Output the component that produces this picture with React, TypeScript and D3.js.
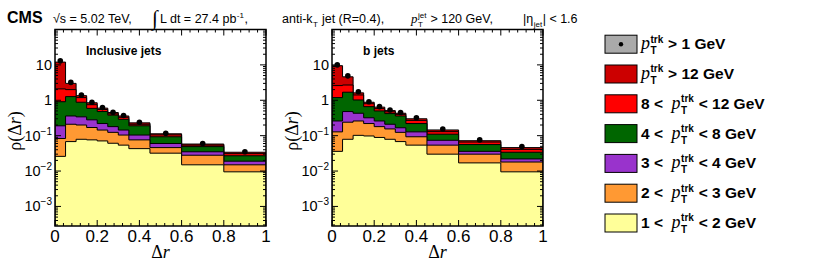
import { useEffect, useRef } from "react";
import * as d3 from "d3";

const binEdges = [0, 0.05, 0.1, 0.15, 0.2, 0.25, 0.3, 0.35, 0.45, 0.6, 0.8, 1.0];

// inclusive jets: contribution of each track-pT slice per bin
const inclPt1to2 = [0.026, 0.068, 0.079, 0.076, 0.071, 0.061, 0.054, 0.043, 0.032, 0.015, 0.0095];
const inclPt2to3 = [0.057, 0.142, 0.121, 0.094, 0.073, 0.063, 0.05, 0.033, 0.014, 0.013, 0.0055];
const inclPt3to4 = [0.107, 0.15, 0.14, 0.11, 0.076, 0.056, 0.04, 0.028, 0.014, 0.007, 0.004];
const inclPt4to8 = [0.72, 0.91, 0.54, 0.31, 0.26, 0.2, 0.146, 0.086, 0.033, 0.014, 0.008];
const inclPt8to12 = [1.19, 0.73, 0.31, 0.16, 0.07, 0.03, 0.04, 0.02, 0.012, 0.005, 0.004];
const inclPtAbove12 = [9.9, 1.0, 0.16, 0.1, 0.05, 0.04, 0.03, 0.02, 0.008, 0.004, 0.003];
const inclTotal = [13, 3.2, 1.41, 0.88, 0.62, 0.46, 0.37, 0.24, 0.117, 0.06, 0.035];

// b jets
const bPt1to2 = [0.036, 0.079, 0.102, 0.098, 0.089, 0.079, 0.068, 0.054, 0.03, 0.017, 0.0095];
const bPt2to3 = [0.092, 0.161, 0.158, 0.122, 0.091, 0.076, 0.056, 0.039, 0.024, 0.013, 0.0085];
const bPt3to4 = [0.132, 0.24, 0.17, 0.1, 0.08, 0.055, 0.043, 0.035, 0.02, 0.006, 0.004];
const bPt4to8 = [0.93, 1.21, 0.59, 0.34, 0.24, 0.21, 0.193, 0.092, 0.036, 0.02, 0.012];
const bPt8to12 = [1.41, 1.01, 0.39, 0.14, 0.08, 0.05, 0.04, 0.05, 0.02, 0.01, 0.007];
const bPtAbove12 = [6.9, 1.9, 0.21, 0.08, 0.06, 0.04, 0.03, 0.03, 0.015, 0.006, 0.005];
const bTotal = [10, 4.9, 1.74, 0.91, 0.66, 0.53, 0.45, 0.32, 0.155, 0.076, 0.049];

const layerColors = ["#ffff99", "#ff9933", "#9933cc", "#006600", "#ff0000", "#cc0000"];
const yTickValues = [1e-3, 1e-2, 1e-1, 1, 10];
const xTickValues = [0, 0.2, 0.4, 0.6, 0.8, 1];

const SANS = "'Liberation Sans', Arial, Helvetica, sans-serif";
const SERIF = "'Liberation Serif', 'Times New Roman', serif";

type Seg = { t?: string; sup?: string; sub?: string; p?: boolean; bold?: boolean; size?: number };

// lays out text pieces one after another, measuring as we go
function richText(g: any, x: number, y: number, segs: Seg[], base: number, bold: boolean) {
    let cx = x;
    for (const s of segs) {
        const size = s.size ?? base;
        if (s.t) {
            const el = g.append("text")
                .attr("x", cx).attr("y", y)
                .attr("font-size", size)
                .attr("font-family", s.p ? SERIF : SANS)
                .attr("font-style", s.p ? "italic" : "normal")
                .attr("font-weight", s.p ? "normal" : (s.bold ?? bold) ? "bold" : "normal")
                .style("white-space", "pre")
                .text(s.t);
            cx += el.node().getComputedTextLength();
        }
        if (s.sup || s.sub) {
            let w = 0;
            const small = Math.round(base * 0.62);
            if (s.sup) {
                const e = g.append("text").attr("x", cx + 0.5).attr("y", y - base * 0.42)
                    .attr("font-size", small).attr("font-family", SANS)
                    .attr("font-weight", bold ? "bold" : "normal").text(s.sup);
                w = Math.max(w, e.node().getComputedTextLength());
            }
            if (s.sub) {
                const e = g.append("text").attr("x", cx + 0.5).attr("y", y + base * 0.32)
                    .attr("font-size", small).attr("font-family", SANS)
                    .attr("font-weight", bold ? "bold" : "normal").text(s.sub);
                w = Math.max(w, e.node().getComputedTextLength());
            }
            cx += w + 1;
        }
    }
    return cx;
}

const legendEntries: Seg[][] = [
    [{ t: "p", p: true, sup: "trk", sub: "T" }, { t: " > 1 GeV" }],
    [{ t: "p", p: true, sup: "trk", sub: "T" }, { t: " > 12 GeV" }],
    [{ t: "8 <  " }, { t: "p", p: true, sup: "trk", sub: "T" }, { t: " < 12 GeV" }],
    [{ t: "4 <  " }, { t: "p", p: true, sup: "trk", sub: "T" }, { t: " < 8 GeV" }],
    [{ t: "3 <  " }, { t: "p", p: true, sup: "trk", sub: "T" }, { t: " < 4 GeV" }],
    [{ t: "2 <  " }, { t: "p", p: true, sup: "trk", sub: "T" }, { t: " < 3 GeV" }],
    [{ t: "1 <  " }, { t: "p", p: true, sup: "trk", sub: "T" }, { t: " < 2 GeV" }],
];
const legendFills = ["#aaaaaa", "#cc0000", "#ff0000", "#006600", "#9933cc", "#ff9933", "#ffff99"];

export default function App() {
    const svgRef = useRef<SVGSVGElement | null>(null);

    useEffect(() => {
        const svg = d3.select(svgRef.current);
        svg.selectAll("*").remove();

        const top = 29.5, bottom = 226;
        const y = d3.scaleLog().domain([2.8e-4, 100]).range([bottom, top]);

        const panels = [
            { x0: 55, label: "Inclusive jets", layers: [inclPt1to2, inclPt2to3, inclPt3to4, inclPt4to8, inclPt8to12, inclPtAbove12], total: inclTotal },
            { x0: 332, label: "b jets", layers: [bPt1to2, bPt2to3, bPt3to4, bPt4to8, bPt8to12, bPtAbove12], total: bTotal },
        ];

        panels.forEach((p, pi) => {
            const x = d3.scaleLinear().domain([0, 1]).range([p.x0, p.x0 + 211]);
            const g = svg.append("g");
            const clipId = `clip${pi}`;
            svg.append("clipPath").attr("id", clipId)
                .append("rect").attr("x", x(0)).attr("y", top).attr("width", x(1) - x(0)).attr("height", bottom - top);

            // cumulative stacks
            const cum: number[][] = [];
            p.layers.forEach((vals, li) => {
                cum.push(vals.map((v, i) => v + (li > 0 ? cum[li - 1][i] : 0)));
            });

            const hg = g.append("g").attr("clip-path", `url(#${clipId})`);
            for (let li = cum.length - 1; li >= 0; li--) {
                const vals = cum[li];
                let d = `M${x(0)},${bottom + 2}`;
                vals.forEach((v, i) => {
                    d += `L${x(binEdges[i])},${y(v)}L${x(binEdges[i + 1])},${y(v)}`;
                });
                d += `L${x(1)},${bottom + 2}Z`;
                hg.append("path").attr("d", d)
                    .attr("fill", layerColors[li])
                    .attr("stroke", "black").attr("stroke-width", 1);
            }

            // data points
            g.selectAll(".dot").data(p.total).enter().append("circle")
                .attr("cx", (d, i) => x((binEdges[i] + binEdges[i + 1]) / 2))
                .attr("cy", d => y(d))
                .attr("r", 2.8).attr("fill", "black");

            // frame
            g.append("rect").attr("x", x(0)).attr("y", top)
                .attr("width", x(1) - x(0)).attr("height", bottom - top)
                .attr("fill", "none").attr("stroke", "black").attr("stroke-width", 1.5);

            // y ticks (log, both sides)
            const ticks = g.append("g").attr("stroke", "black").attr("stroke-width", 1);
            for (let e = -4; e <= 2; e++) {
                for (let k = 1; k <= 9; k++) {
                    const v = k * Math.pow(10, e);
                    if (v < 2.8e-4 || v > 100) continue;
                    const len = k === 1 ? 6 : 3;
                    const yy = y(v);
                    ticks.append("line").attr("x1", x(0)).attr("x2", x(0) + len).attr("y1", yy).attr("y2", yy);
                    ticks.append("line").attr("x1", x(1)).attr("x2", x(1) - len).attr("y1", yy).attr("y2", yy);
                }
            }
            // x ticks (bottom and top)
            d3.range(0, 26).forEach(i => {
                const v = i * 0.04;
                const major = i % 5 === 0;
                const len = major ? 6 : 3;
                const xx = x(v);
                ticks.append("line").attr("x1", xx).attr("x2", xx).attr("y1", bottom).attr("y2", bottom - len);
                ticks.append("line").attr("x1", xx).attr("x2", xx).attr("y1", top).attr("y2", top + len);
            });

            // y tick labels
            yTickValues.forEach(v => {
                const e = Math.round(Math.log10(v));
                const t = g.append("text").attr("x", x(0) - 3).attr("y", y(v) + 5)
                    .attr("text-anchor", "end").attr("font-family", SANS).attr("font-size", 14.5);
                if (e === 0) t.text("1");
                else if (e === 1) t.text("10");
                else {
                    t.append("tspan").text("10");
                    t.append("tspan").attr("dy", -6).attr("font-size", 10).text(`\u2212${-e}`);
                }
            });

            // x tick labels
            g.selectAll(".xl").data(xTickValues).enter().append("text")
                .attr("x", d => x(d)).attr("y", 242)
                .attr("text-anchor", "middle").attr("font-family", SANS).attr("font-size", 17)
                .text(d => d3.format("~g")(d));

            // axis titles
            const xt = g.append("text").attr("x", (x(0) + x(1)) / 2).attr("y", 258)
                .attr("text-anchor", "middle").attr("font-family", SERIF).attr("font-size", 18);
            xt.append("tspan").text("\u0394");
            xt.append("tspan").attr("font-style", "italic").text("r");

            const yt = g.append("text")
                .attr("transform", `translate(${x(0) - 34},131) rotate(-90)`)
                .attr("text-anchor", "middle").attr("font-family", SERIF).attr("font-size", 18);
            yt.append("tspan").text("\u03c1(\u0394");
            yt.append("tspan").attr("font-style", "italic").text("r");
            yt.append("tspan").text(")");

            g.append("text").attr("x", x(0) + 31).attr("y", 55)
                .attr("font-family", SANS).attr("font-weight", "bold").attr("font-size", 12)
                .text(p.label);
        });

        // header
        const h = svg.append("g");
        h.append("text").attr("x", 7).attr("y", 23).attr("font-family", SANS)
            .attr("font-weight", "bold").attr("font-size", 16).text("CMS");
        richText(h, 53, 23, [{ t: "\u221as = 5.02 TeV," }], 12.5, false);
        h.append("text").attr("x", 152).attr("y", 25).attr("font-family", SERIF)
            .attr("font-size", 21).text("\u222b");
        richText(h, 160, 23, [{ t: "L dt = 27.4 pb" }, { sup: "-1" }, { t: "," }], 12.5, false);
        richText(h, 282, 23, [{ t: "anti-k", sub: "T" }, { t: " jet (R=0.4)," }], 12.5, false);
        richText(h, 411, 23, [{ t: "p", p: true, size: 13, sup: "jet", sub: "T" }, { t: " > 120 GeV," }], 12.5, false);
        richText(h, 523, 23, [{ t: "|\u03b7", sub: "jet" }, { t: "| < 1.6" }], 12.5, false);

        // legend
        const lg = svg.append("g");
        legendEntries.forEach((segs, i) => {
            const cy = 44.2 + i * 29.8;
            lg.append("rect").attr("x", 605).attr("y", cy - 9).attr("width", 32).attr("height", 18)
                .attr("fill", legendFills[i]).attr("stroke", "black").attr("stroke-width", 1);
            if (i === 0) lg.append("circle").attr("cx", 621).attr("cy", cy).attr("r", 2.2).attr("fill", "black");
            richText(lg, 641, cy + 5, segs.map(s => (s.p ? { ...s, size: 18 } : s)), 15.5, true);
        });
    }, []);

    return (
        <div style={{ position: "absolute", left: 0, top: 0 }}>
            <svg ref={svgRef} width={830} height={268} style={{ display: "block", background: "white" }}></svg>
        </div>
    );
}
